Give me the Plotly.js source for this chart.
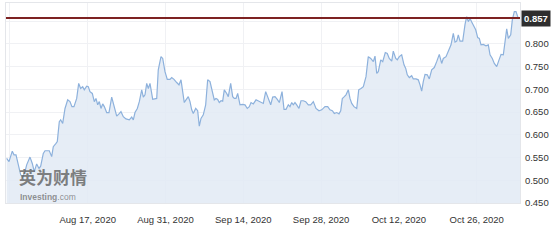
<!DOCTYPE html>
<html>
<head>
<meta charset="utf-8">
<script src="https://cdn.plot.ly/plotly-3.0.1.min.js"></script>
<style>html,body{margin:0;padding:0;background:#fff;}#chart{width:554px;height:243px;}</style>
</head>
<body>
<div id="chart"></div>
<script>
// Days since 2020-08-17 00:00 (fractional) for each observation
const baseDate = "2020-08-17";
const days = [
-14.58,-14.16,-13.57,-13.26,-12.90,-12.49,-12.06,-11.70,-11.28,-10.98,-10.38,-9.97,-9.61,-9.18,-8.76,-8.46,
-7.99,-7.68,-6.91,-6.48,-6.19,-5.70,-5.47,-5.11,-4.86,-4.50,-4.08,-3.60,-3.19,-2.83,-2.47,-1.98,-1.62,-1.26,
-0.90,-0.61,-0.18,0.11,0.41,0.83,1.19,1.49,1.80,2.09,2.39,2.70,2.99,3.42,3.83,4.32,4.61,5.22,5.63,5.99,6.41,
6.89,7.49,7.92,8.21,8.51,8.93,9.29,9.72,10.01,10.31,10.62,10.91,11.21,11.70,12.11,12.42,12.70,13.19,13.50,
13.91,14.32,14.81,15.12,15.53,16.02,16.43,16.79,17.10,17.38,17.69,18.10,18.41,18.72,19.00,19.44,19.79,20.08,
20.39,20.80,21.23,21.59,22.01,22.42,22.78,23.09,23.39,23.68,23.99,24.29,24.58,25.01,25.30,25.73,26.09,26.38,
26.69,26.99,27.41,27.82,28.31,28.72,29.08,29.39,29.80,30.29,30.88,31.60,32.03,32.50,32.93,33.29,33.71,34.12,
34.48,34.97,35.33,35.69,36.10,36.40,36.71,37.00,37.30,37.61,38.02,38.38,38.80,39.23,39.70,40.13,40.60,41.08,
41.62,42.11,42.70,43.19,43.60,44.02,44.38,44.81,45.22,45.53,45.82,46.18,46.48,46.90,47.20,47.51,47.92,48.41,
48.77,49.18,49.60,50.08,50.49,50.93,51.40,51.70,52.01,52.29,52.73,53.09,53.55,53.91,54.27,54.71,54.99,55.43,
55.71,56.07,56.50,56.92,57.23,57.51,57.87,58.30,58.59,59.08,59.49,59.80,60.10,60.39,60.70,61.11,61.47,61.90,
62.37,62.80,63.27,63.70,63.99,64.48,64.89,65.38,65.79,66.10,66.40,66.69,67.00,67.48,67.90,68.20,68.49,68.80,
69.10,69.39,69.82,70.18,70.47,70.78,71.19,71.67,72.09,72.40,72.81,73.17,73.60,74.02,74.38,74.79,75.10,75.40,
75.69,76.12,76.41,76.77,77.07,77.49,77.79
];
const prices = [
0.548,0.541,0.564,0.556,0.556,0.537,0.512,0.507,0.519,0.534,0.551,0.537,0.519,0.536,0.526,0.531,
0.559,0.565,0.565,0.552,0.574,0.581,0.585,0.629,0.633,0.625,0.658,0.677,0.673,0.662,0.662,0.680,0.713,0.702,
0.706,0.699,0.707,0.706,0.695,0.691,0.673,0.680,0.666,0.673,0.658,0.668,0.662,0.649,0.649,0.683,0.669,0.641,0.646,0.651,0.640,
0.635,0.633,0.639,0.633,0.649,0.658,0.673,0.699,0.683,0.688,0.713,0.702,0.713,0.678,0.680,0.680,0.743,0.772,0.768,
0.739,0.722,0.722,0.726,0.722,0.715,0.710,0.721,0.695,0.671,0.677,0.684,0.673,0.655,0.647,0.658,0.653,0.619,
0.636,0.644,0.666,0.721,0.717,0.695,0.677,0.680,0.678,0.671,0.675,0.674,0.699,0.691,0.684,0.713,0.684,0.680,
0.680,0.691,0.666,0.667,0.666,0.658,0.662,0.671,0.668,0.677,0.674,0.669,0.695,0.678,0.666,0.683,0.684,0.678,
0.671,0.695,0.656,0.656,0.666,0.662,0.671,0.666,0.671,0.666,0.658,0.675,0.675,0.673,0.666,0.666,0.673,0.658,
0.653,0.655,0.662,0.662,0.655,0.653,0.647,0.649,0.646,0.653,0.680,0.684,0.688,0.699,0.680,0.669,0.662,0.658,
0.699,0.702,0.706,0.728,0.772,0.768,0.761,0.773,0.735,0.739,0.765,0.761,0.781,0.779,0.768,0.762,0.784,0.768,
0.765,0.772,0.776,0.754,0.746,0.732,0.726,0.730,0.723,0.723,0.721,0.710,0.696,0.717,0.733,0.732,0.723,0.743,
0.748,0.761,0.777,0.757,0.768,0.772,0.783,0.798,0.823,0.804,0.806,0.820,0.806,0.806,0.843,0.860,0.849,0.856,
0.848,0.842,0.831,0.814,0.812,0.798,0.799,0.796,0.798,0.776,0.768,0.757,0.750,0.765,0.777,0.776,0.805,0.833,
0.812,0.820,0.853,0.871,0.871,0.856,0.857
];
const lastPrice = 0.857;
const lastLabel = "0.857";
const yTicks = [0.450,0.500,0.550,0.600,0.650,0.700,0.750,0.800,0.850];
const yTickText = ["0.450","0.500","0.550","0.600","0.650","0.700","0.750","0.800",""];
const watermarkCn = "英为财情";
const watermarkEn = "<b>Investing</b>.com";

function toDateStr(d){
  const base = Date.parse(baseDate + "T00:00:00Z");
  const t = new Date(base + d*86400000);
  const p = n => String(n).padStart(2,"0");
  return t.getUTCFullYear()+"-"+p(t.getUTCMonth()+1)+"-"+p(t.getUTCDate())+" "+p(t.getUTCHours())+":"+p(t.getUTCMinutes());
}
const x = days.map(toDateStr);

const trace = {
  x: x, y: prices, type: "scatter", mode: "lines",
  line: {color: "#8db1dc", width: 1.2},
  fill: "tozeroy", fillcolor: "rgba(226,234,244,0.85)",
  hoverinfo: "skip"
};

const layout = {
  width: 554, height: 243,
  margin: {l: 6, r: 34, t: 3, b: 40},
  paper_bgcolor: "#ffffff", plot_bgcolor: "#ffffff",
  showlegend: false,
  font: {family: "Liberation Sans, Arial, sans-serif", size: 9.5, color: "#333"},
  xaxis: {
    type: "date",
    range: ["2020-08-02 07:12", "2020-11-02 19:00"],
    tick0: "2020-08-17", dtick: 14*86400000,
    tickformat: "%b %d, %Y",
    showgrid: true, gridcolor: "#f0f1f4", gridwidth: 1,
    showline: true, linecolor: "#e4e6ea", mirror: true,
    ticks: "outside", ticklen: 8, tickcolor: "rgba(0,0,0,0)",
    zeroline: false, fixedrange: true
  },
  yaxis: {
    side: "right",
    range: [0.450, 0.890],
    tickvals: yTicks, ticktext: yTickText,
    showgrid: true, gridcolor: "#f0f1f4", gridwidth: 1,
    showline: true, linecolor: "#e4e6ea", mirror: true,
    ticks: "outside", ticklen: 2, tickcolor: "rgba(0,0,0,0)",
    zeroline: false, fixedrange: true
  },
  shapes: [{
    type: "line", xref: "paper", x0: 0, x1: 1, yref: "y", y0: lastPrice, y1: lastPrice,
    line: {color: "#7d2222", width: 2}
  }],
  annotations: [
    {xref: "paper", x: 1.0, xanchor: "left", yref: "y", y: lastPrice, yanchor: "middle",
     text: "<b>" + lastLabel + "</b>", showarrow: false, bgcolor: "#2e2e2e",
     font: {color: "#ffffff", size: 9.5, family: "Liberation Sans, Arial, sans-serif"}, borderpad: 2, xshift: 1},
    {xref: "paper", x: 0.022, xanchor: "left", yref: "paper", y: 0.135, yanchor: "middle",
     text: "<b>" + watermarkCn + "</b>", showarrow: false,
     font: {color: "rgba(95,95,95,0.8)", size: 17, family: "Noto Sans CJK SC"}},
    {xref: "paper", x: 0.024, xanchor: "left", yref: "paper", y: 0.028, yanchor: "middle",
     text: watermarkEn, showarrow: false,
     font: {color: "rgba(110,110,110,0.75)", size: 8.5, family: "Liberation Sans, Arial, sans-serif"}}
  ]
};

Plotly.newPlot("chart", [trace], layout, {displayModeBar: false, staticPlot: true});
</script>
</body>
</html>
